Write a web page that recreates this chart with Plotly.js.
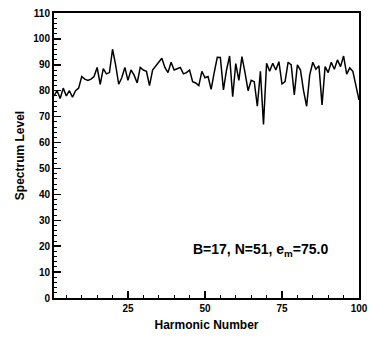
<!DOCTYPE html>
<html>
<head>
<meta charset="utf-8">
<script src="https://cdn.plot.ly/plotly-3.0.1.min.js"></script>
<style>html,body{margin:0;padding:0;background:#fff;}#chart{width:370px;height:338px;}</style>
</head>
<body>
<div id="chart"></div>
<script>
const harmonics = Array.from({length: 100}, (_, i) => i + 1);
const spectrumLevel = [
  78, 80, 77, 81, 78, 80, 77.5, 80, 81, 85.5,
  84.5, 84, 84.5, 85.5, 89, 82.5, 88.5, 86.5, 87, 96,
  90, 82.5, 85, 89, 84, 88, 86, 83, 89, 88,
  87.5, 82, 88, 89.5, 91, 92.5, 89, 87, 91, 88,
  88.5, 89, 86.5, 87, 88, 83.5, 83, 82, 87.5, 85,
  85.5, 80.5, 87, 92.9, 92.8, 80.3, 88, 93.4, 77.7, 90.5,
  84, 93.2, 87, 80, 84, 83.5, 74, 87.5, 67, 90.6,
  87.5, 90.6, 88, 91.2, 82.6, 83.5, 91, 90, 78.4, 90,
  88, 80, 74, 86, 91, 88.3, 89.6, 74.5, 89.3, 87,
  91, 88.3, 91.9, 89.3, 93.4, 86.4, 88.8, 87.5, 82, 76.4
];
const xTickVals = [25, 50, 75, 100];
const yTickVals = [0, 10, 20, 30, 40, 50, 60, 70, 80, 90, 100, 110];
const annotationText = 'B=17, N=51, e<sub>m</sub>=75.0';

const fam = 'Liberation Sans, Arial, sans-serif';

Plotly.newPlot('chart', [{
  x: harmonics,
  y: spectrumLevel,
  type: 'scatter',
  mode: 'lines',
  line: {color: '#000', width: 1.5},
  hoverinfo: 'skip'
}], {
  width: 370, height: 338,
  margin: {l: 54, r: 11, t: 13, b: 40},
  paper_bgcolor: '#fff', plot_bgcolor: '#fff',
  font: {family: fam, size: 10, color: '#000', weight: 'bold'},
  showlegend: false,
  xaxis: {
    range: [1, 100],
    tickvals: xTickVals,
    ticktext: xTickVals.map(String),
    ticks: 'inside', ticklen: 7, tickwidth: 1.5, tickcolor: '#000',
    minor: {dtick: 5, tick0: 0, ticks: 'inside', ticklen: 3, tickwidth: 1, tickcolor: '#000'},
    showgrid: false, zeroline: false,
    showline: true, linecolor: '#000', linewidth: 2, mirror: true,
    tickfont: {family: fam, size: 10, weight: 'bold', color: '#000'},
    title: {text: 'Harmonic Number', standoff: 8, font: {family: fam, size: 12, weight: 'bold', color: '#000'}}
  },
  yaxis: {
    range: [0, 110],
    tickvals: yTickVals,
    ticktext: yTickVals.map(String),
    ticks: 'inside', ticklen: 7, tickwidth: 1.5, tickcolor: '#000',
    minor: {dtick: 2, tick0: 0, ticks: 'inside', ticklen: 3, tickwidth: 1, tickcolor: '#000'},
    showgrid: false, zeroline: false,
    showline: true, linecolor: '#000', linewidth: 2, mirror: true,
    tickfont: {family: fam, size: 10, weight: 'bold', color: '#000'},
    title: {text: 'Spectrum Level', standoff: 6, font: {family: fam, size: 12, weight: 'bold', color: '#000'}}
  },
  annotations: [{
    x: 90.6, y: 18.5, xref: 'x', yref: 'y',
    xanchor: 'right', yanchor: 'middle',
    text: annotationText, showarrow: false,
    font: {family: fam, size: 14, weight: 'bold', color: '#000'}
  }]
}, {displayModeBar: false, staticPlot: true});
</script>
</body>
</html>
